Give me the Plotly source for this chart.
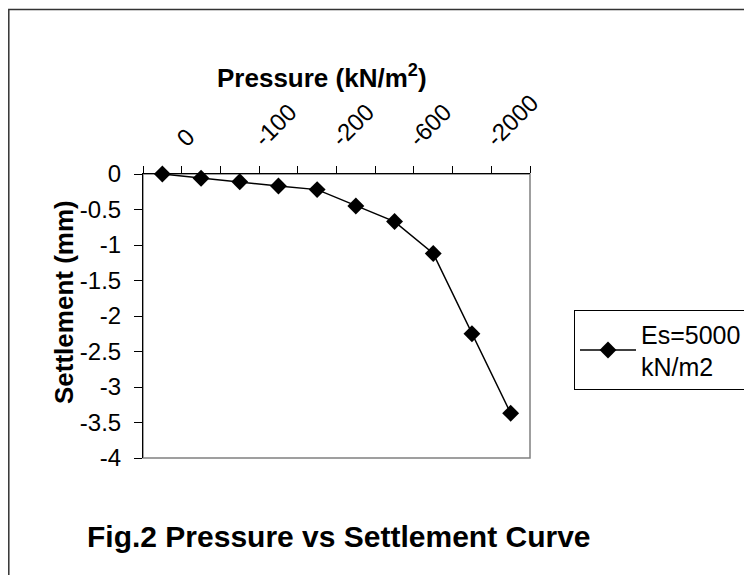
import plotly.graph_objects as go

# Data
pressure = ["0", "-50", "-100", "-150", "-200", "-400", "-600", "-1000", "-2000", "-3000"]
settlement = [0, -0.06, -0.11, -0.17, -0.22, -0.45, -0.67, -1.12, -2.25, -3.37]
x_tick_text = [p if i % 2 == 0 else "" for i, p in enumerate(pressure)]
y_ticks = [0, -0.5, -1, -1.5, -2, -2.5, -3, -3.5, -4]
y_tick_labels = ["0", "-0.5", "-1", "-1.5", "-2", "-2.5", "-3", "-3.5", "-4"]
series_name = "Es=5000<br>kN/m2"

W, H = 752, 575
OFF = 8  # page body margin
L, R, T, B = 143 - OFF, 530 - OFF, 174 - OFF, 458 - OFF

def px(x):
    return (x - OFF - L) / (R - L)

def py(y):
    return (B - (y - OFF)) / (B - T)

FONT = "Liberation Sans, Arial, sans-serif"

fig = go.Figure()
fig.add_trace(go.Scatter(
    x=pressure, y=settlement, mode="lines+markers", name=series_name,
    line=dict(color="black", width=1.5),
    marker=dict(symbol="diamond", size=13, color="black"),
    cliponaxis=False,
))

fig.update_layout(
    width=W, height=H,
    margin=dict(l=L, r=W - R, t=T, b=H - B, pad=0),
    paper_bgcolor="white", plot_bgcolor="white",
    font=dict(family=FONT, color="black", size=24),
    showlegend=True,
    legend=dict(
        xref="container", yref="container",
        x=(574 - OFF) / W, y=1 - (310 - OFF) / H, xanchor="left", yanchor="top",
        bordercolor="black", borderwidth=1, bgcolor="white",
        font=dict(size=25, family=FONT, color="black"),
        itemwidth=56, tracegroupgap=0,
    ),
    title=dict(
        text="<b>Fig.2 Pressure vs Settlement Curve</b>",
        x=(87 - OFF) / W, xanchor="left", xref="container",
        y=(H - (536 - OFF)) / H, yanchor="middle", yref="container",
        font=dict(size=30, family=FONT, color="black"),
    ),
    xaxis=dict(
        type="category", side="top", categoryorder="array", categoryarray=pressure,
        tickmode="array", tickvals=pressure, ticktext=x_tick_text,
        tickson="boundaries", ticks="outside", ticklen=7, tickcolor="black",
        tickangle=-45, showline=True, linecolor="black", linewidth=1,
        showgrid=False, zeroline=False, range=[-0.5, 9.5],
        tickfont=dict(size=24, family=FONT, color="black"),
        ticklabelshift=16, ticklabelstandoff=12,
    ),
    yaxis=dict(
        range=[-4, 0], tickmode="array", tickvals=y_ticks, ticktext=y_tick_labels,
        ticks="outside", ticklen=8, tickcolor="black",
        showline=True, linecolor="black", linewidth=1,
        showgrid=False, zeroline=False, ticklabelstandoff=8,
        tickfont=dict(size=24, family=FONT, color="black"),
    ),
    shapes=[
        dict(type="rect", xref="paper", yref="paper", x0=0, x1=1, y0=0, y1=1,
             line=dict(color="#808080", width=1.5), layer="below"),
        dict(type="rect", xref="paper", yref="paper",
             x0=px(8.8), x1=px(780), y0=py(600), y1=py(9.5),
             line=dict(color="#333333", width=1.5), layer="below"),
    ],
    annotations=[
        dict(text="<b>Pressure (kN/m<sup>2</sup>)</b>", xref="paper", yref="paper",
             x=px(322), y=py(76), xanchor="center", yanchor="middle",
             showarrow=False, font=dict(size=26, family=FONT, color="black")),
        dict(text="<b>Settlement (mm)</b>", xref="paper", yref="paper",
             x=px(64), y=py(302), xanchor="center", yanchor="middle",
             textangle=-90, showarrow=False,
             font=dict(size=26, family=FONT, color="black")),
    ],
)

fig.write_html("out.html")
